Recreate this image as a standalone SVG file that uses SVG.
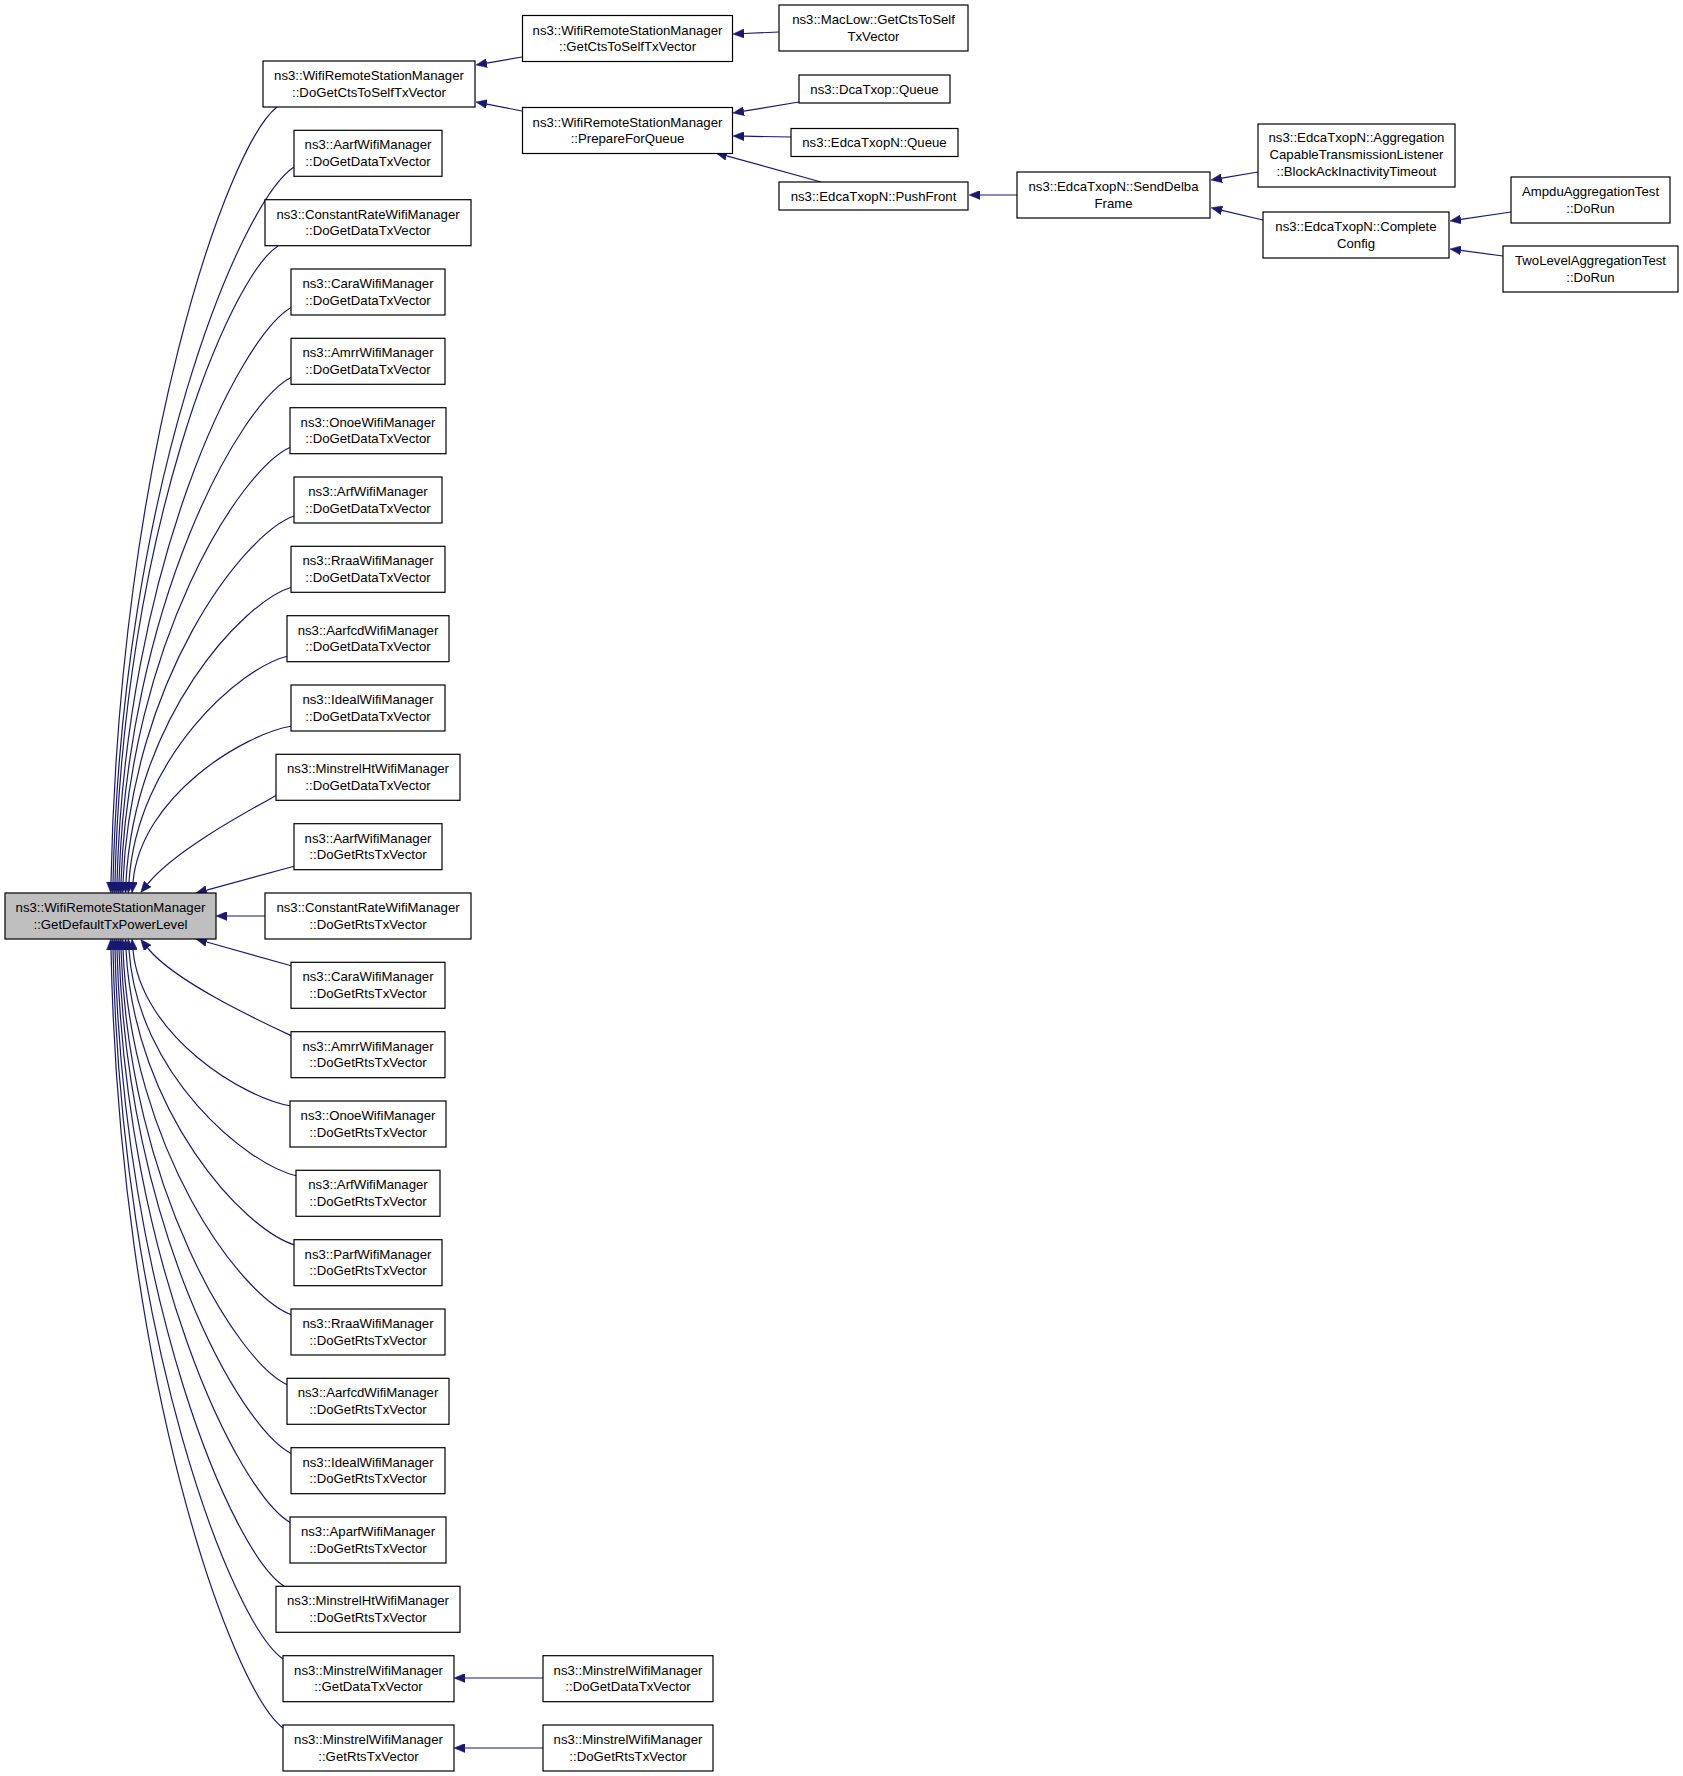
<svg xmlns="http://www.w3.org/2000/svg" width="1683" height="1776" viewBox="0 0 1683 1776">
<style>
.n rect{fill:#fff;stroke:#000;stroke-width:1.2}
.m rect{fill:#bfbfbf;stroke:#000;stroke-width:1.2}
text{font-family:"Liberation Sans",Arial,Helvetica,sans-serif;font-size:13.2px;text-anchor:middle;fill:#000}
#edges path{fill:none;stroke:#191970;stroke-width:1.2;marker-end:url(#ah)}
</style>
<defs>
<marker id="ah" viewBox="0 0 11 9" refX="0" refY="4.5" markerWidth="11" markerHeight="9" markerUnits="userSpaceOnUse" orient="auto">
<path d="M0,0 L11,4.5 L0,9 z" fill="#191970" stroke="#191970" stroke-width="0.5"/>
</marker>
</defs>
<rect width="1683" height="1776" fill="#fff"/>
<g id="edges">
<path d="M277,107 C227.2,145.75 119.3,455.75 111,882"/>
<path d="M294,167 C239.7,202.75 122.05,488.75 113,882"/>
<path d="M278,246 C229.1,277.8 123.15,532.2 115,882"/>
<path d="M292,307 C239.5,335.75 125.75,565.75 117,882"/>
<path d="M292,377 C240.1,402.25 127.65,604.25 119,882"/>
<path d="M291,447 C240,468.75 129.5,642.75 121,882"/>
<path d="M294,516 C242.7,534.3 131.55,680.7 123,882"/>
<path d="M292,587 C242.2,601.75 134.3,719.75 126,882"/>
<path d="M288,656 C240.3,667.3 136.95,757.7 129,882"/>
<path d="M292,726 C244.3,733.8 140.95,796.2 133,882"/>
<path d="M277,795 C250,810 175,850 147.6,884"/>
<path d="M295,866 L206.6,890.1"/>
<path d="M265,916 L227,916"/>
<path d="M292,966 L206.6,942"/>
<path d="M292,1036 C262,1022 175,982 147.6,948"/>
<path d="M291,1106 C243.6,1098.2 140.9,1035.8 133,950"/>
<path d="M297,1176 C246.6,1164.7 137.4,1074.3 129,950"/>
<path d="M295,1245 C244.3,1230.25 134.45,1112.25 126,950"/>
<path d="M292,1315 C241.3,1296.75 131.45,1150.75 123,950"/>
<path d="M288,1385 C237.9,1363.25 129.35,1189.25 121,950"/>
<path d="M292,1454 C240.1,1428.8 127.65,1227.2 119,950"/>
<path d="M291,1523 C238.8,1494.35 125.7,1265.15 117,950"/>
<path d="M284,1586 C233.3,1554.2 123.45,1299.8 115,950"/>
<path d="M283,1659 C232,1623.55 121.5,1339.95 113,950"/>
<path d="M283,1728 C231.4,1689.1 119.6,1377.9 111,950"/>
<path d="M779,32 L744,33.5"/>
<path d="M522,57 L486.8,63.1"/>
<path d="M522,111 L486.8,104.1"/>
<path d="M799,102 L743.8,111.2"/>
<path d="M791,137 L744,136.2"/>
<path d="M821,182 L726.6,155.9"/>
<path d="M1017,195 L980,195"/>
<path d="M1258,172 L1221.8,178.2"/>
<path d="M1263,220 L1221.9,210.3"/>
<path d="M1511,212 L1460.9,219.4"/>
<path d="M1503,256 L1460.9,250.4"/>
<path d="M543,1678 L465,1678"/>
<path d="M543,1748 L465,1748"/>
</g>
<g id="main" class="m"><rect x="5" y="893" width="211" height="46"/><text x="110.5" y="912">ns3::WifiRemoteStationManager</text><text x="110.5" y="928.5">::GetDefaultTxPowerLevel</text></g>
<g id="r1" class="n"><rect x="263" y="61" width="212" height="46"/><text x="369" y="80">ns3::WifiRemoteStationManager</text><text x="369" y="96.5">::DoGetCtsToSelfTxVector</text></g>
<g id="r2" class="n"><rect x="294" y="130.3" width="148" height="46"/><text x="368" y="149.3">ns3::AarfWifiManager</text><text x="368" y="165.8">::DoGetDataTxVector</text></g>
<g id="r3" class="n"><rect x="265" y="199.7" width="206" height="46"/><text x="368" y="218.7">ns3::ConstantRateWifiManager</text><text x="368" y="235.2">::DoGetDataTxVector</text></g>
<g id="r4" class="n"><rect x="291" y="269" width="154" height="46"/><text x="368" y="288">ns3::CaraWifiManager</text><text x="368" y="304.5">::DoGetDataTxVector</text></g>
<g id="r5" class="n"><rect x="291" y="338.3" width="154" height="46"/><text x="368" y="357.3">ns3::AmrrWifiManager</text><text x="368" y="373.8">::DoGetDataTxVector</text></g>
<g id="r6" class="n"><rect x="290" y="407.7" width="156" height="46"/><text x="368" y="426.7">ns3::OnoeWifiManager</text><text x="368" y="443.2">::DoGetDataTxVector</text></g>
<g id="r7" class="n"><rect x="294" y="477" width="148" height="46"/><text x="368" y="496">ns3::ArfWifiManager</text><text x="368" y="512.5">::DoGetDataTxVector</text></g>
<g id="r8" class="n"><rect x="291" y="546.3" width="154" height="46"/><text x="368" y="565.3">ns3::RraaWifiManager</text><text x="368" y="581.8">::DoGetDataTxVector</text></g>
<g id="r9" class="n"><rect x="287" y="615.7" width="162" height="46"/><text x="368" y="634.7">ns3::AarfcdWifiManager</text><text x="368" y="651.2">::DoGetDataTxVector</text></g>
<g id="r10" class="n"><rect x="291" y="685" width="154" height="46"/><text x="368" y="704">ns3::IdealWifiManager</text><text x="368" y="720.5">::DoGetDataTxVector</text></g>
<g id="r11" class="n"><rect x="276" y="754.3" width="184" height="46"/><text x="368" y="773.3">ns3::MinstrelHtWifiManager</text><text x="368" y="789.8">::DoGetDataTxVector</text></g>
<g id="r12" class="n"><rect x="294" y="823.7" width="148" height="46"/><text x="368" y="842.7">ns3::AarfWifiManager</text><text x="368" y="859.2">::DoGetRtsTxVector</text></g>
<g id="r13" class="n"><rect x="265" y="893" width="206" height="46"/><text x="368" y="912">ns3::ConstantRateWifiManager</text><text x="368" y="928.5">::DoGetRtsTxVector</text></g>
<g id="r14" class="n"><rect x="291" y="962.3" width="154" height="46"/><text x="368" y="981.3">ns3::CaraWifiManager</text><text x="368" y="997.8">::DoGetRtsTxVector</text></g>
<g id="r15" class="n"><rect x="291" y="1031.7" width="154" height="46"/><text x="368" y="1050.7">ns3::AmrrWifiManager</text><text x="368" y="1067.2">::DoGetRtsTxVector</text></g>
<g id="r16" class="n"><rect x="290" y="1101" width="156" height="46"/><text x="368" y="1120">ns3::OnoeWifiManager</text><text x="368" y="1136.5">::DoGetRtsTxVector</text></g>
<g id="r17" class="n"><rect x="296" y="1170.3" width="144" height="46"/><text x="368" y="1189.3">ns3::ArfWifiManager</text><text x="368" y="1205.8">::DoGetRtsTxVector</text></g>
<g id="r18" class="n"><rect x="294" y="1239.7" width="148" height="46"/><text x="368" y="1258.7">ns3::ParfWifiManager</text><text x="368" y="1275.2">::DoGetRtsTxVector</text></g>
<g id="r19" class="n"><rect x="291" y="1309" width="154" height="46"/><text x="368" y="1328">ns3::RraaWifiManager</text><text x="368" y="1344.5">::DoGetRtsTxVector</text></g>
<g id="r20" class="n"><rect x="287" y="1378.3" width="162" height="46"/><text x="368" y="1397.3">ns3::AarfcdWifiManager</text><text x="368" y="1413.8">::DoGetRtsTxVector</text></g>
<g id="r21" class="n"><rect x="291" y="1447.7" width="154" height="46"/><text x="368" y="1466.7">ns3::IdealWifiManager</text><text x="368" y="1483.2">::DoGetRtsTxVector</text></g>
<g id="r22" class="n"><rect x="290" y="1517" width="156" height="46"/><text x="368" y="1536">ns3::AparfWifiManager</text><text x="368" y="1552.5">::DoGetRtsTxVector</text></g>
<g id="r23" class="n"><rect x="276" y="1586.3" width="184" height="46"/><text x="368" y="1605.3">ns3::MinstrelHtWifiManager</text><text x="368" y="1621.8">::DoGetRtsTxVector</text></g>
<g id="r24" class="n"><rect x="283" y="1655.7" width="171" height="46"/><text x="368.5" y="1674.7">ns3::MinstrelWifiManager</text><text x="368.5" y="1691.2">::GetDataTxVector</text></g>
<g id="r25" class="n"><rect x="283" y="1725" width="171" height="46"/><text x="368.5" y="1744">ns3::MinstrelWifiManager</text><text x="368.5" y="1760.5">::GetRtsTxVector</text></g>
<g id="getcts" class="n"><rect x="522.5" y="15.5" width="210" height="46"/><text x="627.5" y="34.5">ns3::WifiRemoteStationManager</text><text x="627.5" y="51">::GetCtsToSelfTxVector</text></g>
<g id="prepare" class="n"><rect x="522.5" y="107.5" width="210" height="46"/><text x="627.5" y="126.5">ns3::WifiRemoteStationManager</text><text x="627.5" y="143">::PrepareForQueue</text></g>
<g id="maclow" class="n"><rect x="779" y="5" width="189" height="46"/><text x="873.5" y="24">ns3::MacLow::GetCtsToSelf</text><text x="873.5" y="40.5">TxVector</text></g>
<g id="dcaqueue" class="n"><rect x="799" y="75" width="151" height="28"/><text x="874.5" y="93.5">ns3::DcaTxop::Queue</text></g>
<g id="edcaqueue" class="n"><rect x="791" y="128.5" width="167" height="28"/><text x="874.5" y="147">ns3::EdcaTxopN::Queue</text></g>
<g id="pushfront" class="n"><rect x="779" y="182" width="189" height="28"/><text x="873.5" y="200.5">ns3::EdcaTxopN::PushFront</text></g>
<g id="senddelba" class="n"><rect x="1017" y="172" width="193" height="46"/><text x="1113.5" y="191">ns3::EdcaTxopN::SendDelba</text><text x="1113.5" y="207.5">Frame</text></g>
<g id="blockack" class="n"><rect x="1258" y="124" width="197" height="63"/><text x="1356.5" y="142">ns3::EdcaTxopN::Aggregation</text><text x="1356.5" y="159">CapableTransmissionListener</text><text x="1356.5" y="176">::BlockAckInactivityTimeout</text></g>
<g id="complete" class="n"><rect x="1263" y="212" width="186" height="46"/><text x="1356" y="231">ns3::EdcaTxopN::Complete</text><text x="1356" y="247.5">Config</text></g>
<g id="ampdu" class="n"><rect x="1511" y="177" width="159" height="46"/><text x="1590.5" y="196">AmpduAggregationTest</text><text x="1590.5" y="212.5">::DoRun</text></g>
<g id="twolevel" class="n"><rect x="1503" y="246" width="175" height="46"/><text x="1590.5" y="265">TwoLevelAggregationTest</text><text x="1590.5" y="281.5">::DoRun</text></g>
<g id="mdata" class="n"><rect x="543" y="1655.7" width="170" height="46"/><text x="628" y="1674.7">ns3::MinstrelWifiManager</text><text x="628" y="1691.2">::DoGetDataTxVector</text></g>
<g id="mrts" class="n"><rect x="543" y="1725" width="170" height="46"/><text x="628" y="1744">ns3::MinstrelWifiManager</text><text x="628" y="1760.5">::DoGetRtsTxVector</text></g>
</svg>
